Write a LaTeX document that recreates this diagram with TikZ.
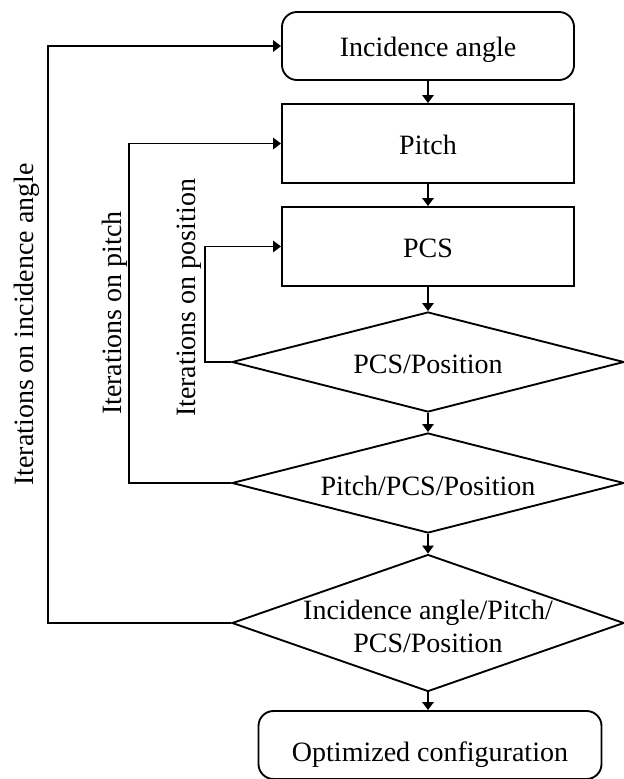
\documentclass[tikz,border=0pt]{standalone}
\usepackage{fontspec}
\setmainfont{Liberation Serif}
\usepackage{tikz}
\usetikzlibrary{shapes.geometric,arrows.meta}

\begin{document}
\begin{tikzpicture}[x=0.03cm, y=-0.03cm, line width=1.6pt,
    font=\fontsize{23.9pt}{28pt}\selectfont,
    arr/.style={-{Triangle[length=0.24cm, width=0.34cm]}},
    stepbox/.style={draw, rectangle, inner sep=0pt, text height=19.5pt, text depth=0pt,
      minimum width=8.76cm, minimum height=2.37cm},
    termbox/.style={draw, rectangle, rounded corners=0.45cm, inner sep=0pt, text depth=0pt},
    decision/.style={draw, diamond, inner sep=0pt, text height=19.5pt, text depth=0pt,
      minimum width=11.76cm}]
  \useasboundingbox (0,0) rectangle (624,779);

  \node[termbox, text height=18.7pt, minimum width=8.76cm, minimum height=2.04cm] (angle) at (428,46) {Incidence angle};
  \node[stepbox] (pitch) at (428,143.5) {Pitch};
  \node[stepbox] (pcs) at (428,246.5) {PCS};
  \node[decision, minimum height=3cm] (posdec) at (428,362) {\makebox[0pt]{PCS/Position}};
  \node[decision, text height=22pt, minimum height=3cm] (pitchdec) at (428,483) {\makebox[0pt]{Pitch/PCS/Position}};
  \node[decision, text height=23.7pt, text depth=0pt, minimum height=4.11cm] (angdec) at (428,623)
    {\makebox[0pt]{\begin{tabular}{@{}c@{}}Incidence angle/Pitch/\\PCS/Position\end{tabular}}};
  \node[termbox, text height=29pt, minimum width=10.29cm, minimum height=2.04cm] (opt) at (430,745) {Optimized configuration};

  \foreach \a/\b in {angle/pitch, pitch/pcs, pcs/posdec, posdec/pitchdec, pitchdec/angdec, angdec/opt}
    \draw[arr] (\a.south) -- (\a.south |- \b.north);

  \foreach \d/\t/\dx in {posdec/pcs/26, pitchdec/pitch/102, angdec/angle/183}
    \draw[arr] (\d.west) -- ++(-\dx,0) |- (\t.west);

  \node[rotate=90, anchor=base] (itang) at (33,324.5) {Iterations on incidence angle};
  \node[rotate=90, anchor=base] (itpitch) at (121,313) {Iterations on pitch};
  \node[rotate=90, anchor=base] (itpos) at (195,298) {Iterations on position};
\end{tikzpicture}
\end{document}
